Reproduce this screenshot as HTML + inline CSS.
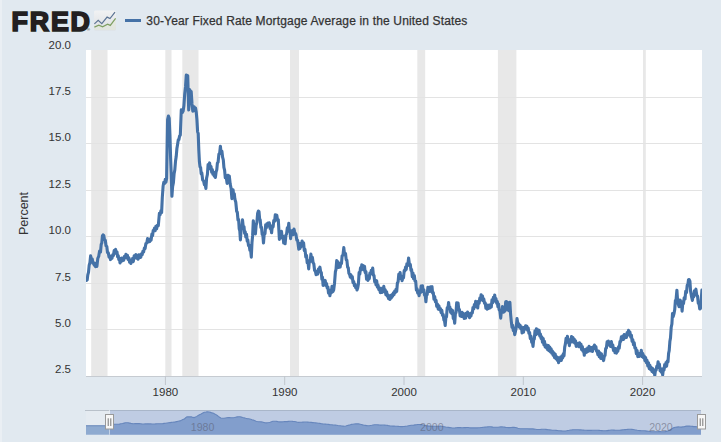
<!DOCTYPE html><html><head><meta charset="utf-8"><style>html,body{margin:0;padding:0;background:#e1e9f0;width:721px;height:442px;overflow:hidden}svg{display:block}text{font-family:"Liberation Sans",sans-serif}</style></head><body><svg width="721" height="442" viewBox="0 0 721 442" font-family="Liberation Sans, sans-serif"><rect x="0" y="0" width="721" height="442" fill="#e1e9f0"/><rect x="0" y="0" width="2" height="442" fill="#eaeff4"/><rect x="86" y="50" width="616" height="326" fill="#ffffff"/><rect x="91.2" y="50" width="16.3" height="326" fill="#e8e8e8"/><rect x="165.3" y="50" width="6.2" height="326" fill="#e8e8e8"/><rect x="182.3" y="50" width="16.2" height="326" fill="#e8e8e8"/><rect x="290" y="50" width="9.0" height="326" fill="#e8e8e8"/><rect x="417.3" y="50" width="7.9" height="326" fill="#e8e8e8"/><rect x="497.9" y="50" width="18.5" height="326" fill="#e8e8e8"/><rect x="643" y="50" width="2.8" height="326" fill="#e8e8e8"/><rect x="86" y="97" width="616" height="1" fill="#e3e3e3"/><rect x="86" y="143" width="616" height="1" fill="#e3e3e3"/><rect x="86" y="190" width="616" height="1" fill="#e3e3e3"/><rect x="86" y="236" width="616" height="1" fill="#e3e3e3"/><rect x="86" y="283" width="616" height="1" fill="#e3e3e3"/><rect x="86" y="329" width="616" height="1" fill="#e3e3e3"/><rect x="86" y="376" width="616" height="1" fill="#c6cbd1"/><rect x="164.9" y="376" width="1" height="9" fill="#c0c6cd"/><text x="165.4" y="396" font-size="11.5" text-anchor="middle" fill="#333">1980</text><rect x="284.2" y="376" width="1" height="9" fill="#c0c6cd"/><text x="284.7" y="396" font-size="11.5" text-anchor="middle" fill="#333">1990</text><rect x="403.5" y="376" width="1" height="9" fill="#c0c6cd"/><text x="404.0" y="396" font-size="11.5" text-anchor="middle" fill="#333">2000</text><rect x="522.8" y="376" width="1" height="9" fill="#c0c6cd"/><text x="523.3" y="396" font-size="11.5" text-anchor="middle" fill="#333">2010</text><rect x="642.1" y="376" width="1" height="9" fill="#c0c6cd"/><text x="642.6" y="396" font-size="11.5" text-anchor="middle" fill="#333">2020</text><text x="71" y="49" font-size="11.5" text-anchor="end" fill="#333">20.0</text><text x="71" y="95" font-size="11.5" text-anchor="end" fill="#333">17.5</text><text x="71" y="141" font-size="11.5" text-anchor="end" fill="#333">15.0</text><text x="71" y="188" font-size="11.5" text-anchor="end" fill="#333">12.5</text><text x="71" y="234" font-size="11.5" text-anchor="end" fill="#333">10.0</text><text x="71" y="281" font-size="11.5" text-anchor="end" fill="#333">7.5</text><text x="71" y="327" font-size="11.5" text-anchor="end" fill="#333">5.0</text><text x="71" y="373" font-size="11.5" text-anchor="end" fill="#333">2.5</text><text transform="translate(28,213.5) rotate(-90)" font-size="12.5" text-anchor="middle" fill="#333">Percent</text><clipPath id="pc"><rect x="86" y="50" width="616" height="326"/></clipPath><path d="M86.5,280.3 L87.2,279.9 L87.8,274.9 L88.5,272.4 L89.2,265.1 L89.9,262.8 L90.6,255.8 L91.6,259.4 L92.3,259.2 L92.9,263.3 L93.6,263.2 L94.3,265.1 L94.9,263.2 L95.6,266.7 L96.2,264.2 L96.9,266.4 L97.8,258.3 L98.7,256.4 L99.6,251.0 L100.5,252.0 L101.2,244.4 L101.8,243.0 L102.4,236.1 L103.1,234.9 L103.8,235.4 L104.5,239.8 L105.3,240.3 L106.0,245.8 L106.8,246.5 L107.5,252.5 L108.3,252.8 L109.0,257.1 L109.8,255.9 L110.5,259.6 L111.2,257.3 L112.0,258.3 L112.7,254.9 L113.4,255.5 L114.2,250.6 L114.9,250.8 L115.6,249.4 L116.3,253.4 L117.0,251.9 L117.6,256.8 L118.2,255.6 L118.8,259.6 L119.4,258.1 L120.0,262.9 L120.6,259.0 L121.2,261.6 L121.8,258.1 L122.4,260.8 L123.0,258.3 L123.7,260.2 L124.5,256.4 L125.2,257.6 L125.9,254.3 L126.6,257.7 L127.4,255.3 L128.1,259.5 L128.8,257.6 L129.6,262.2 L130.3,260.8 L130.9,263.5 L131.5,259.8 L132.1,262.1 L132.7,258.3 L133.3,261.6 L134.2,255.7 L135.1,256.1 L135.9,254.6 L136.6,258.1 L137.4,255.8 L138.1,259.2 L138.8,254.9 L139.4,257.5 L140.1,254.8 L140.8,257.3 L141.5,253.8 L142.2,254.8 L142.9,251.3 L143.6,252.0 L144.4,248.0 L145.1,248.4 L145.9,243.4 L146.8,243.1 L147.6,238.5 L148.3,241.9 L149.0,239.3 L149.7,241.6 L150.4,238.9 L151.1,240.1 L151.9,234.0 L152.6,235.5 L153.2,230.5 L153.8,230.9 L154.5,228.0 L155.2,230.7 L155.9,226.3 L156.6,228.8 L157.4,225.2 L158.3,225.6 L159.4,213.3 L160.1,214.8 L160.9,210.9 L161.6,212.6 L162.3,197.5 L163.1,186.3 L163.8,182.3 L164.6,183.5 L165.3,179.3 L165.9,182.3 L166.6,178.5 L167.6,119.6 L168.4,116.1 L169.2,118.3 L169.9,134.8 L170.6,157.8 L171.2,173.3 L171.9,196.3 L172.6,186.6 L173.4,182.6 L174.1,173.8 L174.8,170.0 L175.5,161.3 L176.2,156.6 L176.9,148.5 L177.6,144.2 L178.3,139.8 L178.9,139.6 L179.6,135.9 L180.3,135.3 L181.3,109.8 L182.2,112.6 L183.1,111.2 L183.9,105.8 L184.7,94.2 L185.5,86.9 L186.3,75.0 L187.0,77.7 L187.7,75.6 L188.7,109.9 L189.8,89.8 L190.5,94.4 L191.2,91.6 L192.0,103.9 L192.8,111.1 L193.5,110.9 L194.2,106.8 L194.9,110.0 L195.5,107.9 L196.2,111.7 L196.9,119.4 L197.6,131.7 L198.2,133.4 L198.8,149.9 L199.4,161.5 L200.0,166.7 L200.6,167.4 L201.2,173.9 L201.8,172.9 L202.7,180.1 L203.6,180.9 L204.4,184.8 L205.1,184.1 L205.9,188.5 L206.6,178.1 L207.4,174.5 L208.1,164.5 L208.8,166.3 L209.6,162.9 L210.3,168.8 L211.0,166.4 L211.7,172.3 L212.3,169.4 L212.9,174.3 L213.6,172.3 L214.2,176.1 L214.8,174.2 L215.4,177.4 L216.1,171.7 L216.8,169.7 L217.4,163.2 L218.1,162.2 L218.9,154.1 L219.6,153.9 L220.4,146.2 L221.1,153.3 L221.9,151.1 L222.6,157.2 L223.3,159.8 L223.9,167.4 L224.6,170.2 L225.3,177.8 L226.2,177.0 L227.1,183.4 L227.8,175.3 L228.4,175.5 L229.3,176.0 L230.2,184.2 L231.1,188.3 L231.9,198.6 L233.1,189.8 L233.7,196.2 L234.3,193.7 L234.9,199.3 L235.8,202.3 L236.7,211.5 L237.3,212.1 L238.0,220.0 L238.6,219.5 L239.2,228.7 L239.8,230.7 L240.4,240.0 L241.1,229.7 L241.8,227.8 L242.5,219.9 L243.2,226.4 L244.0,226.7 L244.6,233.4 L245.2,231.6 L245.8,237.0 L246.5,234.2 L247.2,241.2 L247.8,239.9 L248.5,245.6 L249.2,245.4 L249.9,250.3 L250.6,249.5 L251.3,257.1 L252.0,242.3 L252.6,235.9 L253.3,220.7 L254.0,228.3 L254.7,226.8 L255.4,233.9 L256.1,225.3 L256.9,222.3 L257.6,213.5 L258.4,211.0 L259.0,211.6 L259.6,218.7 L260.2,219.9 L260.9,227.5 L261.5,227.3 L262.2,234.5 L262.8,234.7 L263.5,243.0 L264.2,234.2 L265.0,233.7 L265.7,224.7 L266.3,227.9 L266.9,223.7 L267.5,226.1 L268.1,223.0 L268.7,225.5 L269.3,222.8 L270.1,228.5 L270.8,227.4 L271.6,232.8 L272.3,225.8 L273.1,226.9 L273.8,220.5 L274.6,221.2 L275.3,214.7 L276.1,216.2 L276.8,215.2 L277.6,220.6 L278.3,219.7 L279.4,239.4 L280.1,234.1 L280.8,236.6 L281.5,231.3 L282.2,238.2 L283.0,236.1 L283.7,243.0 L284.4,239.6 L285.1,243.8 L285.9,235.1 L286.6,234.0 L287.3,227.8 L288.1,229.2 L288.8,223.3 L289.4,231.4 L290.0,230.3 L290.6,238.7 L291.2,232.4 L291.9,235.1 L292.5,230.6 L293.2,234.6 L294.0,229.1 L294.7,232.2 L295.9,234.2 L296.8,240.1 L297.6,240.2 L298.8,249.3 L299.4,246.1 L300.0,248.6 L300.6,243.4 L301.3,246.5 L302.1,241.1 L302.8,242.8 L303.6,242.9 L304.3,250.6 L305.0,249.4 L305.8,257.0 L306.5,255.5 L307.2,262.8 L308.0,262.0 L308.7,268.9 L309.4,260.5 L310.2,261.6 L310.9,254.1 L311.6,259.0 L312.4,257.4 L313.1,262.7 L313.8,263.8 L314.6,270.5 L315.3,270.7 L316.1,274.7 L317.0,272.7 L317.7,274.1 L318.4,269.1 L319.1,269.3 L319.9,267.1 L320.7,272.3 L321.3,272.5 L321.9,279.3 L322.5,277.3 L323.1,285.4 L323.8,281.1 L324.5,283.2 L325.2,280.4 L325.9,285.5 L326.5,283.6 L327.2,288.0 L327.9,287.0 L328.5,293.1 L329.2,290.0 L329.9,295.7 L330.6,291.1 L331.3,292.8 L332.0,286.3 L332.9,291.7 L333.7,289.8 L334.5,283.4 L335.4,271.7 L336.0,269.5 L336.7,260.6 L337.4,265.4 L338.0,261.9 L338.7,267.5 L339.4,263.8 L340.1,267.1 L340.8,263.3 L341.5,263.5 L342.1,255.9 L343.0,255.1 L343.8,247.6 L344.6,254.8 L345.5,253.5 L346.2,259.7 L346.9,260.3 L347.6,267.2 L348.3,267.8 L348.9,273.4 L349.6,274.3 L350.3,277.0 L350.9,274.7 L351.6,278.1 L352.3,276.6 L353.0,282.6 L353.7,281.6 L354.4,285.8 L355.0,284.1 L355.7,287.8 L356.4,286.5 L357.0,290.0 L357.7,288.0 L358.4,284.0 L359.1,272.6 L359.8,274.0 L360.5,267.9 L361.1,269.9 L361.8,264.7 L362.5,269.0 L363.1,265.6 L363.8,270.0 L364.5,266.2 L365.2,272.6 L365.9,271.5 L366.6,279.3 L367.3,275.8 L367.9,280.4 L368.6,276.5 L369.3,278.7 L369.9,273.0 L370.6,274.2 L371.3,270.4 L372.0,271.5 L372.7,268.1 L373.4,275.3 L374.0,275.5 L374.7,281.9 L375.4,280.5 L376.0,284.9 L376.7,280.9 L377.4,287.1 L378.1,285.2 L378.8,289.6 L379.6,288.0 L380.3,292.6 L381.1,290.9 L381.8,292.5 L382.4,288.0 L383.1,290.6 L383.8,286.4 L384.5,292.0 L385.2,289.7 L385.9,294.7 L386.6,291.8 L387.2,296.1 L387.9,294.8 L388.5,298.6 L389.2,296.4 L389.9,299.4 L390.6,295.6 L391.3,298.0 L392.0,294.5 L392.7,296.1 L393.4,292.7 L394.0,294.6 L394.7,291.1 L395.4,292.4 L396.0,289.2 L396.7,291.4 L397.4,283.0 L398.1,281.8 L398.8,274.2 L399.4,275.2 L400.1,272.5 L400.8,278.7 L401.5,276.2 L402.1,280.7 L402.8,277.8 L403.5,277.9 L404.2,270.6 L404.9,271.1 L405.6,267.1 L406.2,269.6 L406.9,263.8 L407.8,265.3 L408.6,258.0 L409.5,265.3 L410.3,264.4 L411.0,270.4 L411.6,269.6 L412.3,276.8 L413.0,273.1 L413.6,278.8 L414.3,275.5 L415.0,281.0 L415.7,281.1 L416.4,290.2 L417.0,288.7 L417.7,293.1 L418.4,291.9 L419.1,295.7 L419.8,290.9 L420.5,292.5 L421.1,286.1 L421.8,288.0 L422.5,285.8 L423.1,291.7 L423.8,289.6 L424.5,295.1 L425.2,294.5 L425.9,301.8 L426.6,294.3 L427.2,294.6 L427.9,287.2 L428.6,290.6 L429.3,287.5 L430.0,291.4 L430.6,286.9 L431.3,287.4 L432.0,286.7 L432.6,293.2 L433.3,292.6 L434.0,299.3 L434.7,296.6 L435.4,301.8 L436.1,300.4 L436.7,306.4 L437.4,304.0 L438.2,309.1 L438.9,305.7 L439.7,309.6 L440.4,308.6 L441.1,312.6 L441.8,310.3 L442.5,315.4 L443.2,314.5 L443.9,320.0 L444.5,320.5 L445.2,325.5 L445.9,317.2 L446.5,316.8 L447.2,307.8 L447.9,308.6 L448.6,302.5 L449.3,308.4 L449.9,307.2 L450.6,312.4 L451.3,309.4 L451.9,313.8 L452.6,310.5 L453.3,318.5 L454.0,317.7 L454.7,323.2 L455.4,313.3 L456.0,312.7 L456.7,302.7 L457.4,305.8 L458.1,303.1 L458.8,310.2 L459.4,309.4 L460.1,315.9 L460.8,313.1 L461.5,316.5 L462.1,312.3 L462.8,316.5 L463.5,313.6 L464.2,318.5 L464.9,314.8 L465.6,318.1 L466.2,313.2 L466.9,315.7 L467.6,312.1 L468.2,315.6 L468.9,314.3 L469.6,317.8 L470.3,313.6 L470.9,316.1 L471.6,312.7 L472.3,313.0 L473.0,307.5 L473.7,308.9 L474.4,304.6 L475.0,306.9 L475.7,301.3 L476.4,305.6 L477.0,302.5 L477.7,308.0 L478.4,301.2 L479.1,303.2 L479.8,298.1 L480.5,300.2 L481.1,294.7 L481.8,298.3 L482.5,296.1 L483.1,300.7 L483.8,299.0 L484.5,303.2 L485.2,302.9 L485.9,308.2 L486.6,304.8 L487.2,309.3 L487.9,305.7 L488.6,308.4 L489.2,305.0 L489.9,307.9 L490.6,304.9 L491.3,307.1 L492.0,299.9 L492.7,302.8 L493.4,297.4 L494.0,301.1 L494.7,295.0 L495.4,301.1 L496.0,298.6 L496.7,303.4 L497.3,301.5 L497.9,306.7 L498.5,304.0 L499.1,309.7 L499.9,310.9 L500.7,318.1 L501.3,311.6 L501.9,312.4 L502.5,306.5 L503.4,312.2 L504.2,311.6 L505.0,311.0 L505.7,301.8 L506.5,301.6 L507.2,302.2 L507.9,309.8 L508.6,310.5 L509.2,309.6 L509.9,302.4 L510.6,314.3 L511.3,321.3 L512.0,327.4 L512.6,325.2 L513.3,330.6 L514.0,328.1 L514.7,334.7 L515.4,331.7 L516.2,327.8 L517.0,318.6 L517.9,323.7 L518.7,323.8 L519.4,327.1 L520.1,325.3 L520.8,328.7 L521.5,327.0 L522.1,333.0 L522.8,329.8 L523.5,332.2 L524.2,327.2 L524.9,329.2 L525.6,325.7 L526.2,328.8 L526.9,326.2 L527.6,330.3 L528.2,327.9 L528.9,333.3 L529.6,332.5 L530.3,338.6 L531.0,336.3 L531.7,342.2 L532.3,341.5 L533.0,346.4 L533.7,339.5 L534.3,339.0 L535.0,330.8 L535.7,334.7 L536.4,328.7 L537.1,331.0 L537.8,329.9 L538.4,334.0 L539.1,330.2 L539.8,336.1 L540.4,333.9 L541.1,338.4 L541.8,337.0 L542.5,342.3 L543.2,338.5 L543.9,344.9 L544.5,341.4 L545.2,347.0 L545.8,345.0 L546.5,347.8 L547.1,345.2 L547.7,349.7 L548.4,345.5 L549.0,350.8 L549.7,347.0 L550.4,351.9 L551.1,348.7 L551.8,353.2 L552.4,351.1 L553.1,355.3 L553.8,352.7 L554.5,357.6 L555.2,354.0 L555.9,358.6 L556.6,356.8 L557.2,360.2 L557.9,357.6 L558.6,362.7 L559.3,358.8 L560.0,360.5 L560.6,357.1 L561.3,360.4 L562.0,355.9 L562.6,358.0 L563.3,353.9 L564.0,356.0 L564.7,347.1 L565.4,343.9 L566.1,338.3 L566.7,341.9 L567.4,336.2 L568.1,342.3 L568.7,341.0 L569.4,345.6 L570.1,339.5 L570.8,342.3 L571.5,336.6 L572.2,339.8 L572.9,337.6 L573.5,342.3 L574.2,339.1 L574.9,343.2 L575.5,340.7 L576.2,346.4 L576.9,343.6 L577.6,345.9 L578.2,343.4 L578.9,346.6 L579.6,342.8 L580.3,347.0 L581.0,344.2 L581.6,349.6 L582.3,346.4 L583.0,351.3 L583.6,349.2 L584.3,355.2 L585.0,350.2 L585.7,352.8 L586.4,349.0 L587.1,352.1 L587.8,347.8 L588.4,351.3 L589.1,346.4 L589.8,349.8 L590.5,347.6 L591.1,350.9 L591.8,347.5 L592.5,351.4 L593.2,346.8 L593.8,348.8 L594.5,345.0 L595.2,348.2 L595.9,346.6 L596.5,351.1 L597.2,351.2 L597.9,354.6 L598.6,351.1 L599.3,356.8 L600.0,352.8 L600.7,358.4 L601.4,353.8 L602.1,358.6 L602.8,356.3 L603.6,360.6 L604.3,356.2 L605.0,355.5 L605.7,348.3 L606.4,348.0 L607.1,341.9 L607.8,342.2 L608.4,341.1 L609.1,344.9 L609.7,344.2 L610.5,346.5 L611.4,341.6 L612.1,347.0 L612.8,344.9 L613.5,350.5 L614.2,348.2 L615.0,352.7 L615.7,348.5 L616.4,353.1 L617.1,349.4 L617.8,351.2 L618.5,346.9 L619.2,348.2 L620.0,341.5 L620.7,341.5 L621.4,336.7 L622.1,339.5 L622.8,336.1 L623.5,339.5 L624.2,334.6 L625.0,337.8 L625.7,335.6 L626.4,337.5 L627.1,332.6 L627.8,335.3 L628.5,330.4 L629.2,333.9 L629.9,332.0 L630.7,337.1 L631.4,335.2 L632.1,341.4 L632.8,339.6 L633.5,344.8 L634.2,342.7 L634.9,348.0 L635.7,348.0 L636.4,353.7 L637.1,350.5 L637.8,356.7 L638.5,353.7 L639.2,356.4 L639.9,353.2 L640.6,355.5 L641.3,350.2 L642.0,356.6 L642.8,353.5 L643.5,357.7 L644.2,355.9 L644.9,360.6 L645.6,357.5 L646.3,362.6 L647.0,360.2 L647.8,366.0 L648.5,362.7 L649.2,368.6 L649.9,365.2 L650.6,369.6 L651.3,367.5 L652.0,371.5 L652.7,368.4 L653.4,372.6 L654.1,371.0 L654.8,375.4 L655.5,369.8 L656.1,370.2 L656.8,366.2 L657.4,367.2 L658.1,361.8 L658.8,367.6 L659.4,364.1 L660.1,370.9 L660.7,368.5 L661.4,372.1 L662.0,370.9 L662.7,374.9 L663.4,368.5 L664.0,370.0 L664.7,364.5 L665.4,366.9 L666.0,362.6 L666.6,366.1 L667.3,361.0 L668.0,361.8 L668.6,353.3 L669.2,350.7 L669.9,341.2 L670.5,337.9 L671.2,327.3 L671.9,324.0 L672.5,313.5 L673.2,316.6 L674.0,313.6 L674.7,309.8 L675.4,300.6 L676.1,299.5 L676.9,290.2 L677.6,300.7 L678.4,304.6 L679.1,306.7 L679.9,300.0 L680.6,301.0 L681.4,302.0 L682.1,311.2 L682.8,303.1 L683.5,303.6 L684.2,297.8 L685.0,299.0 L685.7,291.3 L686.5,292.5 L687.2,285.3 L687.8,285.1 L688.5,279.7 L689.1,279.5 L689.9,281.1 L690.6,291.3 L691.6,297.0 L692.4,300.4 L693.1,295.6 L693.7,296.9 L694.4,290.8 L695.0,291.6 L695.9,289.2 L696.8,295.5 L697.5,295.8 L698.3,303.3 L699.0,303.4 L699.7,308.9 L700.4,308.7 L701.1,302.0 L701.9,290.1" fill="none" stroke="#4572a7" stroke-width="3.1" stroke-linejoin="round" stroke-linecap="round" clip-path="url(#pc)"/><text x="11.6" y="30.5" font-size="26.8" font-weight="bold" fill="#231f20" stroke="#231f20" stroke-width="1.7" letter-spacing="1.8">FRED</text><text x="87" y="31" font-size="4" fill="#231f20">®</text><defs><linearGradient id="ig" x1="0" y1="0" x2="0" y2="1"><stop offset="0" stop-color="#f1f2f3"/><stop offset="1" stop-color="#dcdfe2"/></linearGradient></defs><rect x="94" y="10.5" width="22" height="20" rx="1.5" fill="url(#ig)"/><polygon points="94.4,27.1 98.8,25.1 102.6,26.8 107.6,24.2 110.3,25.4 115.6,18.3 115.6,30 94.4,30" fill="#e4eadc" opacity="0.6"/><polyline points="94.4,23.9 98.2,20.4 101.8,23.6 107.1,17.1 110,18.6 115,12.1" fill="none" stroke="#5b7393" stroke-width="1.2"/><polyline points="94.4,27.1 98.8,25.1 102.6,26.8 107.6,24.2 110.3,25.4 115.6,18.3" fill="none" stroke="#7f9f63" stroke-width="1.2"/><rect x="125" y="19" width="16" height="3" fill="#4572a7"/><text x="146.3" y="25" font-size="12" letter-spacing="0.16" fill="#333" stroke="#333" stroke-width="0.25">30-Year Fixed Rate Mortgage Average in the United States</text><rect x="86" y="410" width="615" height="24.69999999999999" fill="#e5ebf1"/><path d="M86.0,425.7 L90.0,425.7 L95.0,425.7 L100.0,425.7 L105.0,425.7 L109.5,425.6 L110.0,425.3 L111.3,424.9 L112.6,424.6 L114.0,424.3 L115.6,424.2 L116.9,424.2 L118.1,424.2 L119.4,424.1 L120.9,423.8 L122.6,423.5 L124.1,423.1 L125.4,422.8 L126.7,422.7 L128.1,422.8 L129.5,423.1 L131.0,423.4 L132.4,423.6 L133.8,423.7 L135.2,423.6 L136.6,423.6 L138.0,423.6 L139.3,423.6 L140.5,423.7 L141.6,423.9 L142.8,424.0 L143.9,424.0 L145.1,423.9 L146.5,423.9 L147.9,423.8 L149.3,423.9 L150.7,423.9 L152.1,424.0 L153.2,424.0 L154.4,424.0 L155.8,423.9 L157.4,423.8 L158.9,423.8 L160.2,423.7 L161.5,423.7 L162.9,423.6 L164.2,423.4 L165.6,423.2 L167.1,423.0 L168.7,422.8 L170.1,422.6 L171.4,422.4 L172.8,422.3 L174.1,422.1 L175.3,421.9 L176.7,421.6 L178.2,421.3 L180.0,420.9 L181.4,420.3 L182.9,419.6 L184.3,419.1 L185.7,417.8 L187.0,416.9 L188.7,416.8 L190.1,416.9 L191.4,416.8 L192.7,417.4 L194.2,417.6 L195.5,417.1 L196.8,416.4 L198.2,415.5 L199.5,414.8 L201.1,414.0 L202.8,413.1 L204.3,412.3 L205.9,412.0 L207.2,411.7 L209.2,412.0 L210.6,412.4 L212.1,412.9 L213.5,413.3 L214.7,413.9 L216.0,414.6 L217.3,415.5 L218.4,416.4 L219.6,417.3 L220.8,418.0 L222.5,418.2 L224.0,418.2 L225.4,418.0 L226.8,417.8 L228.2,417.6 L229.6,417.5 L230.8,417.7 L232.0,417.8 L233.2,417.7 L234.5,417.5 L235.8,417.2 L237.1,416.9 L238.6,416.7 L240.0,416.8 L241.4,417.1 L242.7,417.5 L244.2,417.9 L245.7,418.3 L247.2,418.6 L248.8,418.8 L250.8,419.2 L252.0,419.7 L253.4,420.1 L254.9,420.7 L256.1,421.2 L257.2,421.5 L258.5,421.7 L259.8,421.8 L261.3,421.9 L262.4,422.0 L263.6,422.4 L264.9,422.7 L266.3,422.9 L267.6,422.7 L268.9,422.5 L270.2,422.2 L271.5,421.7 L272.9,421.3 L274.4,421.2 L275.7,421.2 L276.8,421.4 L278.1,421.7 L279.4,421.9 L280.7,421.9 L282.1,421.9 L283.3,421.7 L284.4,421.6 L285.6,421.6 L287.0,421.6 L288.5,421.4 L289.9,421.3 L291.4,421.2 L292.8,421.4 L294.2,421.5 L295.9,421.8 L297.3,422.2 L298.7,422.4 L300.1,422.3 L301.5,422.2 L302.9,422.1 L304.3,422.0 L305.4,422.0 L306.6,422.0 L307.8,422.1 L309.2,422.2 L311.1,422.4 L312.7,422.6 L314.5,422.8 L315.6,422.9 L317.0,423.0 L318.4,423.2 L319.9,423.4 L321.3,423.7 L322.7,423.9 L324.1,424.0 L325.5,424.1 L326.9,424.2 L328.3,424.4 L329.7,424.6 L331.4,424.7 L332.7,424.9 L334.1,425.0 L335.5,425.1 L336.6,425.2 L337.9,425.5 L339.2,425.7 L340.5,425.8 L341.8,426.0 L343.1,426.1 L344.4,426.2 L345.8,426.0 L347.4,425.5 L349.0,425.1 L350.3,424.8 L351.6,424.4 L352.9,424.2 L354.2,424.0 L355.5,423.9 L357.1,423.8 L358.7,423.9 L360.1,424.2 L361.4,424.5 L362.7,424.9 L363.9,425.2 L365.3,425.4 L366.6,425.6 L367.9,425.8 L369.2,425.7 L370.4,425.5 L371.8,425.3 L373.1,425.0 L374.4,424.7 L375.7,424.7 L377.0,424.8 L378.3,424.9 L379.6,425.0 L380.9,425.1 L382.2,425.0 L383.5,425.0 L384.8,425.1 L386.1,425.2 L387.4,425.4 L388.7,425.7 L390.0,425.9 L391.4,426.0 L392.9,426.1 L394.2,426.1 L395.5,426.2 L396.8,426.3 L398.2,426.4 L399.4,426.5 L400.7,426.6 L402.0,426.6 L403.4,426.5 L404.7,426.4 L406.0,426.2 L407.3,426.0 L408.6,425.7 L409.9,425.5 L411.2,425.3 L412.5,425.2 L413.7,425.1 L415.1,424.9 L416.4,424.7 L417.7,424.5 L419.3,424.5 L420.9,424.6 L422.2,424.7 L423.5,425.0 L424.8,425.4 L426.1,425.7 L427.4,425.9 L428.7,426.1 L430.0,426.1 L431.3,426.2 L432.6,426.2 L433.9,426.3 L435.3,426.3 L436.6,426.3 L437.8,426.3 L439.2,426.2 L440.5,426.1 L441.8,426.3 L443.0,426.5 L444.4,426.7 L445.7,427.0 L447.0,427.2 L448.4,427.4 L449.9,427.6 L451.2,427.8 L452.5,428.0 L453.8,428.0 L455.1,427.9 L456.4,427.7 L457.7,427.6 L459.0,427.5 L460.3,427.6 L461.6,427.8 L462.9,427.7 L464.2,427.6 L465.5,427.6 L466.8,427.5 L468.1,427.5 L469.4,427.7 L470.7,427.9 L472.0,427.9 L473.4,427.9 L474.7,427.9 L475.9,427.9 L477.2,427.9 L478.5,427.8 L479.8,427.7 L481.2,427.5 L482.5,427.4 L483.7,427.2 L485.0,427.1 L486.3,427.0 L487.7,426.9 L489.0,426.8 L490.2,426.8 L491.5,426.9 L492.9,427.1 L494.2,427.2 L495.5,427.3 L496.8,427.3 L498.1,427.2 L499.4,427.0 L500.7,426.9 L502.0,426.9 L503.3,427.0 L504.5,427.1 L505.6,427.4 L507.0,427.5 L508.3,427.6 L509.5,427.6 L511.1,427.5 L512.6,427.4 L514.0,427.4 L515.3,427.5 L516.6,427.8 L517.9,428.2 L519.2,428.5 L520.5,428.7 L521.9,428.8 L523.4,428.8 L525.0,428.7 L526.4,428.7 L527.7,428.8 L529.0,428.9 L530.3,428.9 L531.6,428.9 L532.9,428.9 L534.2,429.1 L535.5,429.3 L536.8,429.5 L538.1,429.5 L539.4,429.5 L540.7,429.4 L542.0,429.2 L543.3,429.2 L544.6,429.2 L545.9,429.4 L547.2,429.6 L548.6,429.8 L549.8,429.9 L551.1,430.0 L552.3,430.2 L553.5,430.3 L554.8,430.3 L556.1,430.4 L557.4,430.5 L558.7,430.7 L560.1,430.8 L561.4,430.9 L562.7,431.0 L564.0,431.0 L565.3,431.0 L566.6,430.8 L567.9,430.5 L569.2,430.3 L570.5,430.0 L571.8,429.9 L573.1,429.7 L574.4,429.7 L575.7,429.7 L577.0,429.7 L578.3,429.8 L579.6,429.9 L580.9,429.9 L582.2,430.0 L583.5,430.1 L584.8,430.2 L586.1,430.3 L587.4,430.4 L588.7,430.4 L590.0,430.4 L591.3,430.4 L592.6,430.3 L593.9,430.3 L595.2,430.3 L596.5,430.2 L597.8,430.3 L599.1,430.4 L600.4,430.5 L601.8,430.6 L603.1,430.7 L604.4,430.8 L605.8,430.8 L607.2,430.6 L608.6,430.4 L609.9,430.2 L611.2,430.0 L612.4,430.0 L614.0,430.1 L615.4,430.2 L616.8,430.3 L618.1,430.3 L619.5,430.3 L620.9,430.1 L622.3,429.9 L623.6,429.7 L625.0,429.6 L626.4,429.5 L627.7,429.4 L629.1,429.3 L630.5,429.3 L631.8,429.4 L633.2,429.5 L634.6,429.8 L635.9,430.0 L637.3,430.3 L638.7,430.5 L640.1,430.6 L641.4,430.7 L642.8,430.8 L644.2,430.8 L645.5,430.9 L646.9,431.1 L648.2,431.3 L649.6,431.4 L651.0,431.6 L652.4,431.7 L653.7,431.8 L655.0,431.8 L656.3,431.7 L657.6,431.7 L658.9,431.6 L660.1,431.6 L661.4,431.7 L662.7,431.7 L663.9,431.7 L665.2,431.6 L666.5,431.4 L667.7,431.0 L669.0,430.5 L670.2,429.8 L671.5,429.1 L672.7,428.3 L674.1,427.6 L675.5,427.3 L676.9,427.1 L678.4,426.9 L679.8,427.0 L681.2,427.1 L682.6,426.9 L684.0,426.7 L685.4,426.4 L686.8,426.1 L688.0,426.1 L689.4,426.1 L691.0,426.2 L692.5,426.4 L693.7,426.6 L695.2,426.6 L696.7,426.8 L698.2,426.8 L699.5,426.9 L701.0,427.0 L701,434.7 L86,434.7 Z" fill="#8eaad0"/><path d="M86.0,425.7 L90.0,425.7 L95.0,425.7 L100.0,425.7 L105.0,425.7 L109.5,425.6 L110.0,425.3 L111.3,424.9 L112.6,424.6 L114.0,424.3 L115.6,424.2 L116.9,424.2 L118.1,424.2 L119.4,424.1 L120.9,423.8 L122.6,423.5 L124.1,423.1 L125.4,422.8 L126.7,422.7 L128.1,422.8 L129.5,423.1 L131.0,423.4 L132.4,423.6 L133.8,423.7 L135.2,423.6 L136.6,423.6 L138.0,423.6 L139.3,423.6 L140.5,423.7 L141.6,423.9 L142.8,424.0 L143.9,424.0 L145.1,423.9 L146.5,423.9 L147.9,423.8 L149.3,423.9 L150.7,423.9 L152.1,424.0 L153.2,424.0 L154.4,424.0 L155.8,423.9 L157.4,423.8 L158.9,423.8 L160.2,423.7 L161.5,423.7 L162.9,423.6 L164.2,423.4 L165.6,423.2 L167.1,423.0 L168.7,422.8 L170.1,422.6 L171.4,422.4 L172.8,422.3 L174.1,422.1 L175.3,421.9 L176.7,421.6 L178.2,421.3 L180.0,420.9 L181.4,420.3 L182.9,419.6 L184.3,419.1 L185.7,417.8 L187.0,416.9 L188.7,416.8 L190.1,416.9 L191.4,416.8 L192.7,417.4 L194.2,417.6 L195.5,417.1 L196.8,416.4 L198.2,415.5 L199.5,414.8 L201.1,414.0 L202.8,413.1 L204.3,412.3 L205.9,412.0 L207.2,411.7 L209.2,412.0 L210.6,412.4 L212.1,412.9 L213.5,413.3 L214.7,413.9 L216.0,414.6 L217.3,415.5 L218.4,416.4 L219.6,417.3 L220.8,418.0 L222.5,418.2 L224.0,418.2 L225.4,418.0 L226.8,417.8 L228.2,417.6 L229.6,417.5 L230.8,417.7 L232.0,417.8 L233.2,417.7 L234.5,417.5 L235.8,417.2 L237.1,416.9 L238.6,416.7 L240.0,416.8 L241.4,417.1 L242.7,417.5 L244.2,417.9 L245.7,418.3 L247.2,418.6 L248.8,418.8 L250.8,419.2 L252.0,419.7 L253.4,420.1 L254.9,420.7 L256.1,421.2 L257.2,421.5 L258.5,421.7 L259.8,421.8 L261.3,421.9 L262.4,422.0 L263.6,422.4 L264.9,422.7 L266.3,422.9 L267.6,422.7 L268.9,422.5 L270.2,422.2 L271.5,421.7 L272.9,421.3 L274.4,421.2 L275.7,421.2 L276.8,421.4 L278.1,421.7 L279.4,421.9 L280.7,421.9 L282.1,421.9 L283.3,421.7 L284.4,421.6 L285.6,421.6 L287.0,421.6 L288.5,421.4 L289.9,421.3 L291.4,421.2 L292.8,421.4 L294.2,421.5 L295.9,421.8 L297.3,422.2 L298.7,422.4 L300.1,422.3 L301.5,422.2 L302.9,422.1 L304.3,422.0 L305.4,422.0 L306.6,422.0 L307.8,422.1 L309.2,422.2 L311.1,422.4 L312.7,422.6 L314.5,422.8 L315.6,422.9 L317.0,423.0 L318.4,423.2 L319.9,423.4 L321.3,423.7 L322.7,423.9 L324.1,424.0 L325.5,424.1 L326.9,424.2 L328.3,424.4 L329.7,424.6 L331.4,424.7 L332.7,424.9 L334.1,425.0 L335.5,425.1 L336.6,425.2 L337.9,425.5 L339.2,425.7 L340.5,425.8 L341.8,426.0 L343.1,426.1 L344.4,426.2 L345.8,426.0 L347.4,425.5 L349.0,425.1 L350.3,424.8 L351.6,424.4 L352.9,424.2 L354.2,424.0 L355.5,423.9 L357.1,423.8 L358.7,423.9 L360.1,424.2 L361.4,424.5 L362.7,424.9 L363.9,425.2 L365.3,425.4 L366.6,425.6 L367.9,425.8 L369.2,425.7 L370.4,425.5 L371.8,425.3 L373.1,425.0 L374.4,424.7 L375.7,424.7 L377.0,424.8 L378.3,424.9 L379.6,425.0 L380.9,425.1 L382.2,425.0 L383.5,425.0 L384.8,425.1 L386.1,425.2 L387.4,425.4 L388.7,425.7 L390.0,425.9 L391.4,426.0 L392.9,426.1 L394.2,426.1 L395.5,426.2 L396.8,426.3 L398.2,426.4 L399.4,426.5 L400.7,426.6 L402.0,426.6 L403.4,426.5 L404.7,426.4 L406.0,426.2 L407.3,426.0 L408.6,425.7 L409.9,425.5 L411.2,425.3 L412.5,425.2 L413.7,425.1 L415.1,424.9 L416.4,424.7 L417.7,424.5 L419.3,424.5 L420.9,424.6 L422.2,424.7 L423.5,425.0 L424.8,425.4 L426.1,425.7 L427.4,425.9 L428.7,426.1 L430.0,426.1 L431.3,426.2 L432.6,426.2 L433.9,426.3 L435.3,426.3 L436.6,426.3 L437.8,426.3 L439.2,426.2 L440.5,426.1 L441.8,426.3 L443.0,426.5 L444.4,426.7 L445.7,427.0 L447.0,427.2 L448.4,427.4 L449.9,427.6 L451.2,427.8 L452.5,428.0 L453.8,428.0 L455.1,427.9 L456.4,427.7 L457.7,427.6 L459.0,427.5 L460.3,427.6 L461.6,427.8 L462.9,427.7 L464.2,427.6 L465.5,427.6 L466.8,427.5 L468.1,427.5 L469.4,427.7 L470.7,427.9 L472.0,427.9 L473.4,427.9 L474.7,427.9 L475.9,427.9 L477.2,427.9 L478.5,427.8 L479.8,427.7 L481.2,427.5 L482.5,427.4 L483.7,427.2 L485.0,427.1 L486.3,427.0 L487.7,426.9 L489.0,426.8 L490.2,426.8 L491.5,426.9 L492.9,427.1 L494.2,427.2 L495.5,427.3 L496.8,427.3 L498.1,427.2 L499.4,427.0 L500.7,426.9 L502.0,426.9 L503.3,427.0 L504.5,427.1 L505.6,427.4 L507.0,427.5 L508.3,427.6 L509.5,427.6 L511.1,427.5 L512.6,427.4 L514.0,427.4 L515.3,427.5 L516.6,427.8 L517.9,428.2 L519.2,428.5 L520.5,428.7 L521.9,428.8 L523.4,428.8 L525.0,428.7 L526.4,428.7 L527.7,428.8 L529.0,428.9 L530.3,428.9 L531.6,428.9 L532.9,428.9 L534.2,429.1 L535.5,429.3 L536.8,429.5 L538.1,429.5 L539.4,429.5 L540.7,429.4 L542.0,429.2 L543.3,429.2 L544.6,429.2 L545.9,429.4 L547.2,429.6 L548.6,429.8 L549.8,429.9 L551.1,430.0 L552.3,430.2 L553.5,430.3 L554.8,430.3 L556.1,430.4 L557.4,430.5 L558.7,430.7 L560.1,430.8 L561.4,430.9 L562.7,431.0 L564.0,431.0 L565.3,431.0 L566.6,430.8 L567.9,430.5 L569.2,430.3 L570.5,430.0 L571.8,429.9 L573.1,429.7 L574.4,429.7 L575.7,429.7 L577.0,429.7 L578.3,429.8 L579.6,429.9 L580.9,429.9 L582.2,430.0 L583.5,430.1 L584.8,430.2 L586.1,430.3 L587.4,430.4 L588.7,430.4 L590.0,430.4 L591.3,430.4 L592.6,430.3 L593.9,430.3 L595.2,430.3 L596.5,430.2 L597.8,430.3 L599.1,430.4 L600.4,430.5 L601.8,430.6 L603.1,430.7 L604.4,430.8 L605.8,430.8 L607.2,430.6 L608.6,430.4 L609.9,430.2 L611.2,430.0 L612.4,430.0 L614.0,430.1 L615.4,430.2 L616.8,430.3 L618.1,430.3 L619.5,430.3 L620.9,430.1 L622.3,429.9 L623.6,429.7 L625.0,429.6 L626.4,429.5 L627.7,429.4 L629.1,429.3 L630.5,429.3 L631.8,429.4 L633.2,429.5 L634.6,429.8 L635.9,430.0 L637.3,430.3 L638.7,430.5 L640.1,430.6 L641.4,430.7 L642.8,430.8 L644.2,430.8 L645.5,430.9 L646.9,431.1 L648.2,431.3 L649.6,431.4 L651.0,431.6 L652.4,431.7 L653.7,431.8 L655.0,431.8 L656.3,431.7 L657.6,431.7 L658.9,431.6 L660.1,431.6 L661.4,431.7 L662.7,431.7 L663.9,431.7 L665.2,431.6 L666.5,431.4 L667.7,431.0 L669.0,430.5 L670.2,429.8 L671.5,429.1 L672.7,428.3 L674.1,427.6 L675.5,427.3 L676.9,427.1 L678.4,426.9 L679.8,427.0 L681.2,427.1 L682.6,426.9 L684.0,426.7 L685.4,426.4 L686.8,426.1 L688.0,426.1 L689.4,426.1 L691.0,426.2 L692.5,426.4 L693.7,426.6 L695.2,426.6 L696.7,426.8 L698.2,426.8 L699.5,426.9 L701.0,427.0" fill="none" stroke="#6787b9" stroke-width="1.1"/><rect x="109.5" y="410" width="591.5" height="24.69999999999999" fill="rgba(102,133,194,0.3)"/><rect x="85" y="410" width="24.5" height="1" fill="#b9c1ca"/><rect x="109.5" y="410" width="591.5" height="1" fill="#a9b6c9"/><rect x="109.0" y="410" width="1" height="24.69999999999999" fill="rgba(255,255,255,0.5)"/><rect x="105.5" y="414.5" width="8" height="14.5" fill="#f7f7f7" stroke="#999" stroke-width="1"/><rect x="107.7" y="418.3" width="1" height="7.7" fill="#777"/><rect x="110.3" y="418.3" width="1" height="7.7" fill="#777"/><rect x="697.5" y="414.5" width="8" height="14.5" fill="#f7f7f7" stroke="#999" stroke-width="1"/><rect x="699.7" y="418.3" width="1" height="7.7" fill="#777"/><rect x="702.3" y="418.3" width="1" height="7.7" fill="#777"/><text x="190.8" y="431" font-size="10.6" fill="#556" fill-opacity="0.5">1980</text><text x="420" y="431" font-size="10.6" fill="#556" fill-opacity="0.5">2000</text><text x="649.2" y="431" font-size="10.6" fill="#556" fill-opacity="0.5">2020</text></svg></body></html>
